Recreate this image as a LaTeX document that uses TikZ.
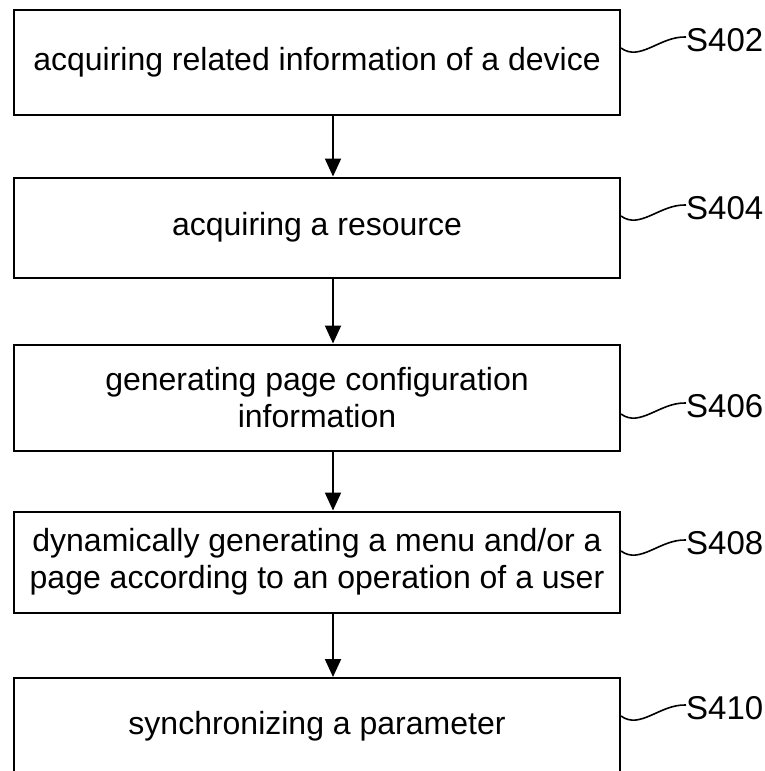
\documentclass[tikz,border=0pt]{standalone}
\usepackage{fontspec}
\setmainfont{Liberation Sans}
\usetikzlibrary{arrows.meta,calc}
\begin{document}
\begin{tikzpicture}[x=1pt,y=-1pt,
  stepbox/.style={draw=black,line width=2pt,minimum width=606pt,inner sep=0pt,
    align=center,font=\fontsize{32}{37}\selectfont},
  steplabel/.style={anchor=west,inner sep=0pt,font=\fontsize{33}{37}\selectfont},
  flow/.style={line width=2pt,-{Triangle[length=18pt,width=16pt]}},
  wave/.style={line width=1.6pt}]
\useasboundingbox (0,0) rectangle (765,771);

% process steps
\node[stepbox,minimum height=105pt] (b1) at (317,62) {acquiring related information of a device};
\node[stepbox,minimum height=100pt] (b2) at (317,227.5) {acquiring a resource};
\node[stepbox,minimum height=106pt] (b3) at (317,397.5) {generating page configuration\\information};
\node[stepbox,minimum height=101pt] (b4) at (317,562) {dynamically generating a menu and/or a\\page according to an operation of a user};
\node[stepbox,minimum height=96pt] (b5) at (317,726) {synchronizing a parameter};

% step numbers
\node[steplabel] (l1) at (686,40) {S402};
\node[steplabel] (l2) at (686,208) {S404};
\node[steplabel] (l3) at (686,406) {S406};
\node[steplabel] (l4) at (686,543) {S408};
\node[steplabel] (l5) at (686,708) {S410};

% arrows between steps
\coordinate (ax) at (333,0);
\draw[flow] (b1.south -| ax) -- (b2.north -| ax);
\draw[flow] (b2.south -| ax) -- (b3.north -| ax);
\draw[flow] (b3.south -| ax) -- (b4.north -| ax);
\draw[flow] (b4.south -| ax) -- (b5.north -| ax);

% wavy leaders from boxes to step numbers
\foreach \i in {1,...,5}{
  \draw[wave] (b\i.east |- {$(l\i.west)+(0,8)$}) .. controls +(19,14) and +(-26,-1) .. ($(l\i.west)+(0,-3)$);
}
\end{tikzpicture}
\end{document}
